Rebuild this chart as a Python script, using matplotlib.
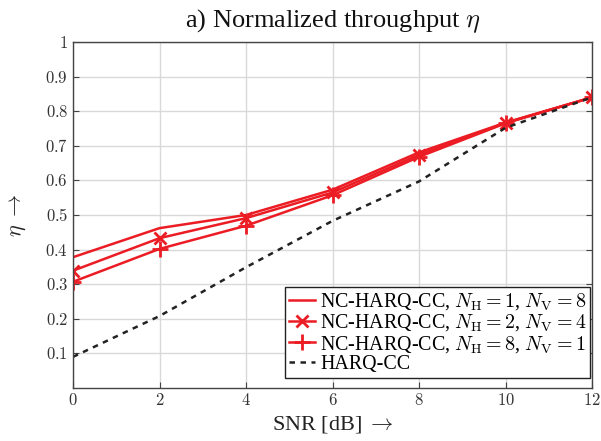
import numpy as np
import matplotlib
matplotlib.use("Agg")
import matplotlib.pyplot as plt

plt.rcParams['font.family'] = ['Liberation Serif', 'DejaVu Serif']
plt.rcParams['mathtext.fontset'] = 'cm'

snr = [0, 2, 4, 6, 8, 10, 12]
eta_h1_v8 = [0.378, 0.462, 0.500, 0.573, 0.681, 0.767, 0.840]
eta_h2_v4 = [0.339, 0.433, 0.491, 0.565, 0.674, 0.766, 0.840]
eta_h8_v1 = [0.307, 0.402, 0.469, 0.557, 0.668, 0.765, 0.840]
eta_harq = [0.090, 0.208, 0.349, 0.483, 0.597, 0.752, 0.840]

labels = [r'NC-HARQ-CC, $N_{\mathrm{H}}=1$, $N_{\mathrm{V}}=8$',
          r'NC-HARQ-CC, $N_{\mathrm{H}}=2$, $N_{\mathrm{V}}=4$',
          r'NC-HARQ-CC, $N_{\mathrm{H}}=8$, $N_{\mathrm{V}}=1$',
          'HARQ-CC']

red = '#ec1c24'

fig = plt.figure(figsize=(6.01, 4.41), dpi=100)
ax = fig.add_axes([0.1215, 0.1202, 0.8636, 0.7846])

ax.plot(snr, eta_h1_v8, color=red, lw=1.8, label=labels[0])
ax.plot(snr, eta_h2_v4, color=red, lw=1.8, marker='x', ms=9, mew=2, label=labels[1])
ax.plot(snr, eta_h8_v1, color=red, lw=1.8, marker='+', ms=12, mew=2, label=labels[2])
ax.plot(snr, eta_harq, color='#222222', lw=1.8, ls=(0, (2.2, 2.2)), label=labels[3])

ax.set_xlim(0, 12)
ax.set_ylim(0, 1)
ax.set_xticks(snr)
ax.set_xticklabels([f'${v}$' for v in snr])
yt = [0.1, 0.2, 0.3, 0.4, 0.5, 0.6, 0.7, 0.8, 0.9, 1.0]
ax.set_yticks(yt)
ax.set_yticklabels(['$1$' if v == 1.0 else f'${v:.1f}$' for v in yt])
ax.tick_params(direction='in', length=4, width=0.8, labelsize=12, colors='#444444',
               labelcolor='#333333', top=False, right=True)
ax.grid(True, color='#d9d9d9', lw=1.0)
ax.set_axisbelow(True)
for s in ax.spines.values():
    s.set_color('#444444')
    s.set_linewidth(1.0)

ax.set_xlabel(r'SNR [dB]$\;\rightarrow$', fontsize=16, color='#222222', labelpad=4)
ax.set_ylabel(r'$\eta$ $\rightarrow$', fontsize=16, color='#222222', labelpad=12)
ax.set_title(r'a) Normalized throughput $\eta$', fontsize=19, color='#111111', pad=11)

leg = ax.legend(loc='lower right', bbox_to_anchor=(0.997, 0.0289), borderaxespad=0,
                fontsize=14.4, frameon=True, fancybox=False,
                edgecolor='#222222', framealpha=1, handlelength=1.3,
                handletextpad=0.25, borderpad=0.2, labelspacing=0.02)
leg.get_frame().set_linewidth(1.0)

fig.savefig('out.png', dpi=100)
